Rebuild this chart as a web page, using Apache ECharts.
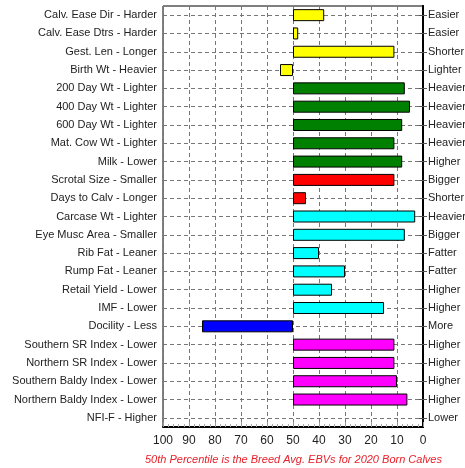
<!DOCTYPE html>
<html>
<head>
<meta charset="utf-8">
<script src="https://cdn.jsdelivr.net/npm/echarts@6/dist/echarts.min.js"></script>
<style>
  html, body { margin: 0; padding: 0; background: #fff; }
  #chart { width: 465px; height: 468px; }
</style>
</head>
<body>
<div id="chart"></div>
<script>
// traits, top to bottom
const traits = [
  'Calv. Ease Dir - Harder', 'Calv. Ease Dtrs - Harder', 'Gest. Len - Longer', 'Birth Wt - Heavier',
  '200 Day Wt - Lighter', '400 Day Wt - Lighter', '600 Day Wt - Lighter', 'Mat. Cow Wt - Lighter',
  'Milk - Lower', 'Scrotal Size - Smaller', 'Days to Calv - Longer', 'Carcase Wt - Lighter',
  'Eye Musc Area - Smaller', 'Rib Fat - Leaner', 'Rump Fat - Leaner', 'Retail Yield - Lower',
  'IMF - Lower', 'Docility - Less', 'Southern SR Index - Lower', 'Northern SR Index - Lower',
  'Southern Baldy Index - Lower', 'Northern Baldy Index - Lower', 'NFI-F - Higher'
];
const rightLabels = [
  'Easier', 'Easier', 'Shorter', 'Lighter',
  'Heavier', 'Heavier', 'Heavier', 'Heavier',
  'Higher', 'Bigger', 'Shorter', 'Heavier',
  'Bigger', 'Fatter', 'Fatter', 'Higher',
  'Higher', 'More', 'Higher', 'Higher',
  'Higher', 'Higher', 'Lower'
];
// percentile bands (bars start at 50)
const percentile = [38, 48, 11, 55, 7, 5, 8, 11, 8, 11, 45, 3, 7, 40, 30, 35, 15, 85, 11, 11, 10, 6, 50];
const barColors = [
  '#ffff00', '#ffff00', '#ffff00', '#ffff00',
  '#008000', '#008000', '#008000', '#008000', '#008000',
  '#ff0000', '#ff0000',
  '#00ffff', '#00ffff', '#00ffff', '#00ffff', '#00ffff', '#00ffff',
  '#0000ff',
  '#ff00ff', '#ff00ff', '#ff00ff', '#ff00ff',
  '#ff00ff'
];
const xTicks = [0, 10, 20, 30, 40, 50, 60, 70, 80, 90, 100];
const avg = 50;
const footer = '50th Percentile is the Breed Avg. EBVs for 2020 Born Calves';

const chart = echarts.init(document.getElementById('chart'));

const baseData = percentile.map(v => Math.min(avg, v));
const barData = percentile.map((v, i) => ({
  value: v === avg ? null : Math.abs(v - avg),
  itemStyle: { color: barColors[i] }
}));

const gridLine = { show: true, lineStyle: { color: '#777', type: [4, 3], width: 1 } };
const font = 'Arial, "Liberation Sans", sans-serif';

chart.setOption({
  animation: false,
  grid: {
    left: 163, right: 42, top: 6, bottom: 41,
    outerBoundsMode: 'none', containLabel: false,
    show: true, borderColor: '#000', borderWidth: 1
  },
  xAxis: {
    type: 'value', min: xTicks[0], max: xTicks[xTicks.length - 1], interval: 10,
    inverse: true,
    axisLine: { show: true, onZero: false, lineStyle: { color: '#000', width: 2 } },
    axisTick: { show: true, inside: true, length: 5, lineStyle: { color: '#999' } },
    minorTick: { show: true, splitNumber: 5, length: 3, lineStyle: { color: '#aaa' } },
    axisLabel: { color: '#222', fontSize: 12, fontFamily: font, margin: 8 },
    splitLine: gridLine
  },
  yAxis: [
    {
      type: 'category', data: traits, inverse: true,
      axisLine: { show: true, lineStyle: { color: '#000', width: 2 } },
      axisTick: { show: true, alignWithLabel: true, length: 4, lineStyle: { color: '#555' } },
      axisLabel: { color: '#222', fontSize: 11, fontFamily: font, margin: 6 },
      splitLine: Object.assign({ alignWithLabel: true }, gridLine)
    },
    {
      type: 'category', data: rightLabels, inverse: true, position: 'right',
      axisLine: { show: true, lineStyle: { color: '#000', width: 2 } },
      axisTick: { show: true, alignWithLabel: true, length: 4, lineStyle: { color: '#555' } },
      axisLabel: { color: '#222', fontSize: 11, fontFamily: font, margin: 5 },
      splitLine: { show: false }
    }
  ],
  series: [
    {
      type: 'bar', stack: 'p', data: baseData, barWidth: 12,
      itemStyle: { color: 'transparent' }, silent: true
    },
    {
      type: 'bar', stack: 'p', data: barData, barWidth: 12,
      itemStyle: { borderColor: '#000', borderWidth: 1 }
    }
  ],
  graphic: [{
    type: 'text', left: 145, top: 454,
    style: {
      text: footer, fill: '#e8202a', fontSize: 11, fontStyle: 'italic', fontFamily: font
    }
  }]
});
</script>
</body>
</html>
